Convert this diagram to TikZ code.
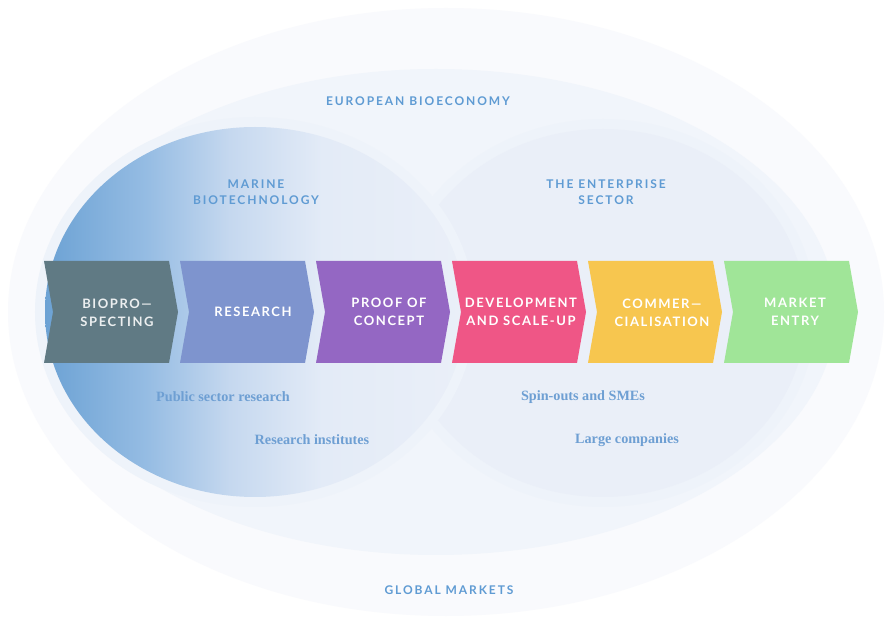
\documentclass[tikz,border=0pt]{standalone}
\usepackage{fontspec}
\setmainfont{Lato}
\newfontfamily\capsfont[LetterSpace=12]{Lato}
\newfontfamily\labfont[LetterSpace=16]{Lato}
\newfontfamily\serifl{Liberation Serif}
\definecolor{bgouter}{HTML}{F9FAFD}
\definecolor{bgeuro}{HTML}{F1F5FB}
\definecolor{bgent}{HTML}{EAEFF8}
\definecolor{ringc}{HTML}{EEF3FA}
\definecolor{mblue}{HTML}{6CA2D4}
\definecolor{mmid1}{HTML}{95BCE3}
\definecolor{mmid2}{HTML}{C5D8EF}
\definecolor{mlight}{HTML}{E3EBF7}
\definecolor{mlight2}{HTML}{EAEFF8}
\definecolor{labblue}{HTML}{5F9BD3}
\definecolor{serblue}{HTML}{6E9FD3}
\definecolor{cA}{HTML}{607A84}
\definecolor{cB}{HTML}{7E94CE}
\definecolor{cC}{HTML}{9467C3}
\definecolor{cD}{HTML}{EF5686}
\definecolor{cE}{HTML}{F7C64F}
\definecolor{cF}{HTML}{A0E598}
\pgfdeclarehorizontalshading{marine}{100bp}{color(0bp)=(mblue); color(25bp)=(mblue); color(37bp)=(mmid1); color(47bp)=(mmid2); color(58bp)=(mlight); color(75bp)=(mlight2); color(100bp)=(mlight2)}
\tikzset{
  chev/.style={font=\capsfont\bfseries\fontsize{13}{18.5}\selectfont, text=white, align=center},
  biglab/.style={font=\labfont\bfseries\fontsize{12}{16}\selectfont, text=labblue, align=center},
  serlab/.style={font=\serifl\bfseries\fontsize{14.2}{16}\selectfont, text=serblue},
}
\newcommand{\chevron}[2]{\fill[#2] (#1,261) -- ++(125,0) -- ++(9,51) -- ++(-9,51) -- ++(-125,0) -- ++(9,-51) -- cycle;}
\begin{document}
\begin{tikzpicture}[x=1pt,y=-1pt]
\useasboundingbox (0,0) rectangle (887,617);
\fill[white] (0,0) rectangle (887,617);
% ellipses
\fill[bgouter] (446,312) ellipse [x radius=438, y radius=304];
\fill[bgeuro] (436,312) ellipse [x radius=400, y radius=243];
\draw[ringc, line width=10pt] (603,313) ellipse [x radius=208, y radius=189];
\fill[bgent] (603,313) ellipse [x radius=203, y radius=184];
\draw[ringc, line width=10pt] (255,312) ellipse [x radius=215, y radius=190];
\shade[shading=marine] (255,312) ellipse [x radius=210, y radius=185];
% chevrons
\chevron{44}{cA}
\chevron{180}{cB}
\chevron{316}{cC}
\chevron{452}{cD}
\chevron{588}{cE}
\chevron{724}{cF}
\node[chev, text=white!88!cA] (n1) at (117,313) {BIOPRO—\\SPECTING};
\node[chev] (n2) at (253,312) {RESEARCH};
\node[chev] (n3) at (389,312) {PROOF OF\\CONCEPT};
\node[chev] (n4) at (521,312) {DEVELOPMENT\\AND SCALE-UP};
\node[chev] (n5) at (662,313) {COMMER—\\CIALISATION};
\node[chev] (n6) at (795,312) {MARKET\\ENTRY};
% labels
\node[biglab] (eu) at (418,101) {EUROPEAN BIOECONOMY};
\node[biglab] (gm) at (449,590) {GLOBAL MARKETS};
\node[biglab] (mb) at (256,192) {MARINE\\BIOTECHNOLOGY};
\node[biglab] (es) at (606,192) {THE ENTERPRISE\\SECTOR};
\node[serlab] (s1) at (223,397) {Public sector research};
\node[serlab] (s2) at (312,440) {Research institutes};
\node[serlab] (s3) at (583,397) {Spin-outs and SMEs};
\node[serlab] (s4) at (627,440) {Large companies};
\end{tikzpicture}
\end{document}
